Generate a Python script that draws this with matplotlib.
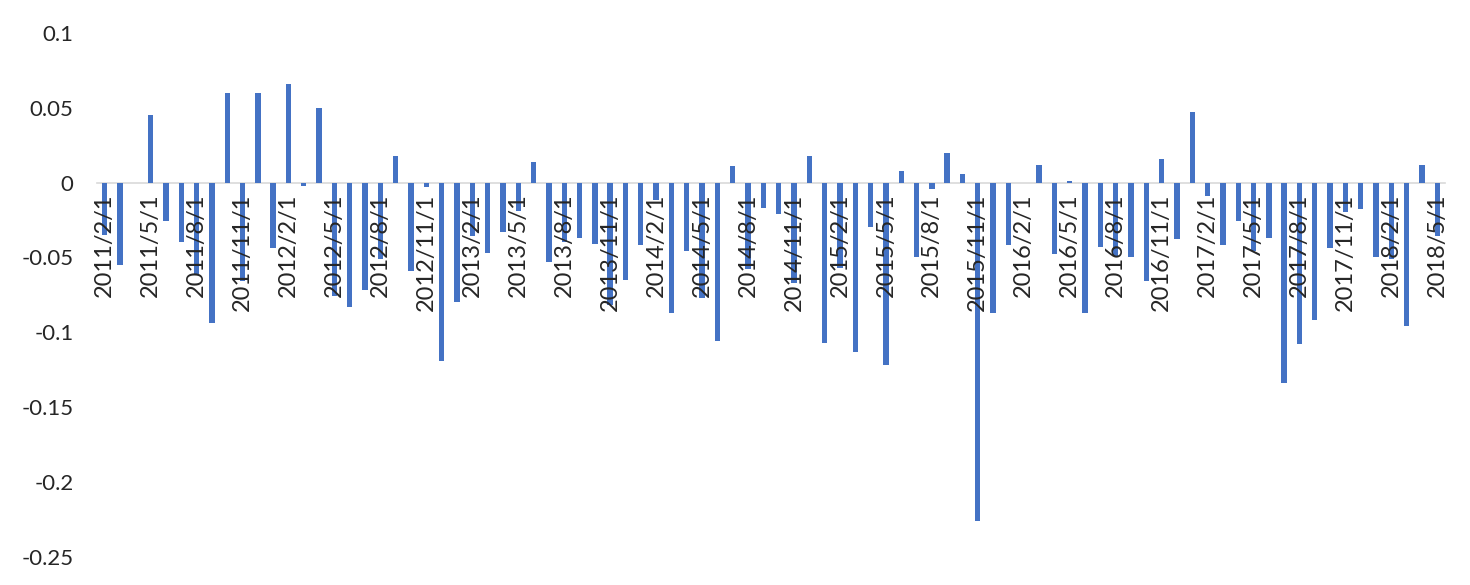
import matplotlib
matplotlib.use('Agg')
import matplotlib.pyplot as plt
import numpy as np
import pandas as pd

# monthly values, 2011/2 .. 2018/5
vals_2011 = [-0.035, -0.055, 0.0, 0.045, -0.026, -0.040, -0.061, -0.094, 0.060, -0.066, 0.060]
vals_2012 = [-0.044, 0.066, -0.002, 0.050, -0.076, -0.083, -0.072, -0.051, 0.018, -0.059, -0.003, -0.119]
vals_2013 = [-0.080, -0.036, -0.047, -0.033, -0.019, 0.014, -0.053, -0.040, -0.037, -0.041, -0.082, -0.065]
vals_2014 = [-0.042, -0.012, -0.087, -0.046, -0.077, -0.106, 0.011, -0.058, -0.017, -0.021, -0.067, 0.018]
vals_2015 = [-0.107, -0.057, -0.113, -0.030, -0.122, 0.008, -0.050, -0.004, 0.0195, 0.006, -0.226, -0.087]
vals_2016 = [-0.042, 0.0, 0.012, -0.048, 0.001, -0.087, -0.043, -0.049, -0.050, -0.066, 0.0155, -0.038]
vals_2017 = [0.047, -0.009, -0.042, -0.026, -0.046, -0.037, -0.134, -0.108, -0.092, -0.044, -0.020, -0.018]
vals_2018 = [-0.050, -0.051, -0.096, 0.012, -0.036]

values = np.array(vals_2011 + vals_2012 + vals_2013 + vals_2014 +
                  vals_2015 + vals_2016 + vals_2017 + vals_2018)
dates = pd.date_range('2011-02-01', periods=len(values), freq='MS')
date_labels = [f'{d.year}/{d.month}/1' for d in dates]

y_ticks = [0.1, 0.05, 0, -0.05, -0.1, -0.15, -0.2, -0.25]
y_labels = ['0.1', '0.05', '0', '-0.05', '-0.1', '-0.15', '-0.2', '-0.25']

plt.rcParams['font.family'] = ['Lato', 'DejaVu Sans']

fig = plt.figure(figsize=(14.7, 5.85), dpi=100)
ax = fig.add_axes([0.066, 0.048, 0.917, 0.896])

x = np.arange(len(values))
ax.bar(x, values, width=0.35, color='#4472C4', zorder=2)

ax.set_xlim(-0.5, len(values) - 0.5)
ax.set_ylim(-0.25, 0.1)

# horizontal axis sits on the zero line
for s in ['top', 'right', 'left']:
    ax.spines[s].set_visible(False)
ax.spines['bottom'].set_position(('data', 0))
ax.spines['bottom'].set_color('#D9D9D9')
ax.spines['bottom'].set_linewidth(1.2)
ax.spines['bottom'].set_zorder(1)
ax.xaxis.set_zorder(3)

ax.set_yticks(y_ticks)
ax.set_yticklabels(y_labels)

ax.set_xticks(x[::3])
ax.set_xticklabels(date_labels[::3])

ax.tick_params(axis='x', length=0, pad=8, labelsize=17, labelcolor='#262626',
               labelrotation=90)
ax.tick_params(axis='y', length=0, pad=17, labelsize=16, labelcolor='#262626')
for lab in ax.get_xticklabels():
    lab.set_va('top')
    lab.set_ha('center')

fig.savefig('out.png', dpi=100)
